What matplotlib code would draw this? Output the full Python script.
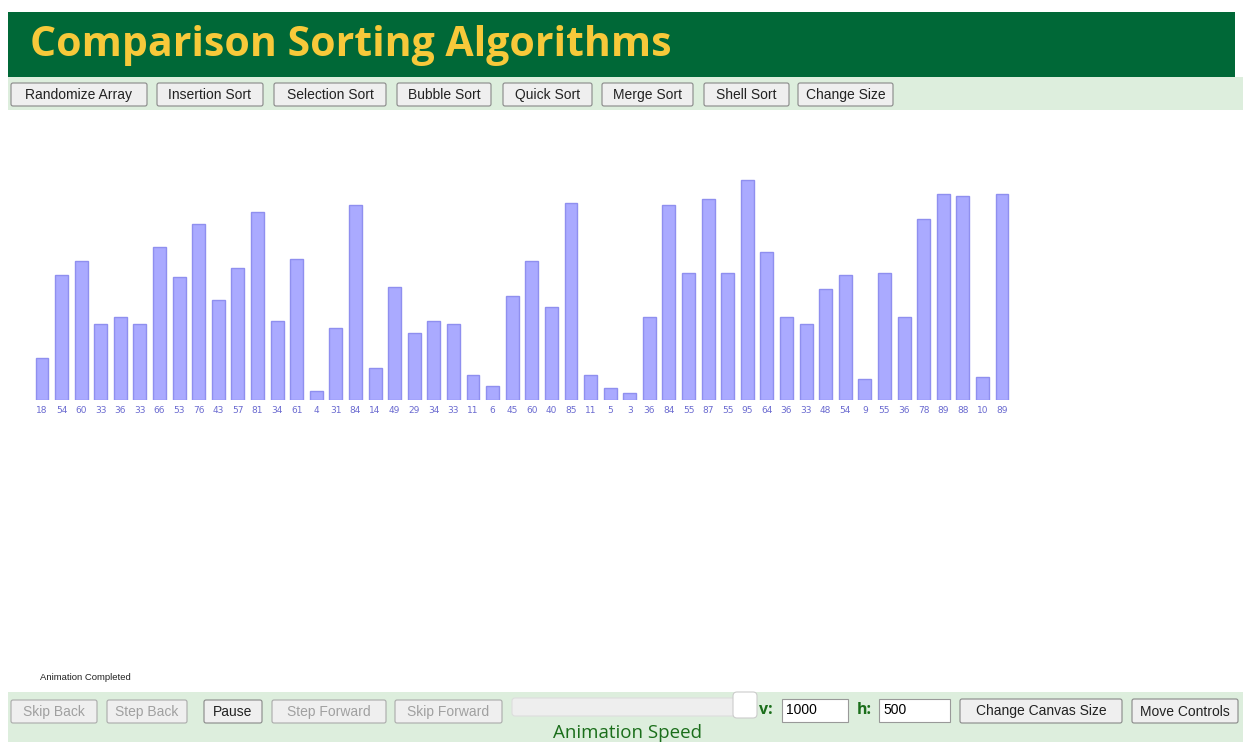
import matplotlib
matplotlib.use('Agg')
import matplotlib.pyplot as plt
from matplotlib.patches import Rectangle, FancyBboxPatch

values = [18, 54, 60, 33, 36, 33, 66, 53, 76, 43, 57, 81, 34, 61, 4, 31, 84, 14, 49, 29,
          34, 33, 11, 6, 45, 60, 40, 85, 11, 5, 3, 36, 84, 55, 87, 55, 95, 64, 36, 33,
          48, 54, 9, 55, 36, 78, 89, 88, 10, 89]
top_buttons = ['Randomize Array', 'Insertion Sort', 'Selection Sort', 'Bubble Sort',
               'Quick Sort', 'Merge Sort', 'Shell Sort', 'Change Size']
top_btn_x = [(11, 147), (157, 263), (274, 386), (397, 491), (503, 592), (602, 693),
             (704, 789), (798, 893)]
bottom_buttons = ['Skip Back', 'Step Back', 'Pause', 'Step Forward', 'Skip Forward']
bottom_btn_x = [(11, 97), (107, 187), (204, 262), (272, 386), (395, 502)]
bottom_enabled = [False, False, True, False, False]

W, H = 1243, 742
fig = plt.figure(figsize=(W / 100, H / 100), dpi=100)
fig.patch.set_facecolor('white')

# page decorations in pixel coordinates
bg = fig.add_axes([0, 0, 1, 1])
bg.set_xlim(0, W)
bg.set_ylim(H, 0)
bg.axis('off')

green = '#006837'
light = '#ddeedd'
bg.add_patch(Rectangle((8, 12), 1227, 65, color=green, lw=0))
bg.text(30, 45, 'Comparison Sorting Algorithms', color='#f7c93a', fontsize=29.5,
        fontweight='bold', family='Open Sans', va='center', ha='left')
bg.add_patch(Rectangle((8, 77), 1235, 33, color=light, lw=0))


def button(x0, x1, y0, y1, label, enabled=True):
    bg.add_patch(FancyBboxPatch((x0, y0), x1 - x0, y1 - y0,
                                boxstyle='round,pad=0,rounding_size=2',
                                fc='#efefef', ec='#aaaaaa' if not enabled else '#888888', lw=0.8))
    bg.text((x0 + x1) / 2, (y0 + y1) / 2 - 1, label, ha='center', va='center_baseline',
            fontsize=10, family='Liberation Sans',
            color='#222222' if enabled else '#a0a0a0')


for lab, (x0, x1) in zip(top_buttons, top_btn_x):
    button(x0, x1, 83, 106, lab)

bg.text(40, 678, 'Animation Completed', fontsize=6.8, family='Liberation Sans',
        va='center', color='#222222')
bg.add_patch(Rectangle((8, 692), 1235, 50, color=light, lw=0))
for lab, (x0, x1), en in zip(bottom_buttons, bottom_btn_x, bottom_enabled):
    button(x0, x1, 700, 723, lab, en)

# speed slider
bg.add_patch(FancyBboxPatch((512, 698), 240, 18, boxstyle='round,pad=0,rounding_size=3',
                            fc='#eeeeee', ec='#dddddd', lw=0.8))
bg.add_patch(FancyBboxPatch((733, 692), 24, 26, boxstyle='round,pad=0,rounding_size=4',
                            fc='white', ec='#cccccc', lw=0.8))
bg.text(628, 733, 'Animation Speed', fontsize=13.5, family='Open Sans', color='#1a6e1a',
        ha='center', va='center')
bg.text(759, 710, 'v:', fontsize=11.5, family='Open Sans', color='#1a6e1a',
        fontweight='bold', va='center')
bg.add_patch(Rectangle((782, 699), 66, 23, fc='white', ec='#999999', lw=0.8))
bg.text(786, 709, '1000', fontsize=10, family='Liberation Sans', va='center_baseline')
bg.text(857, 710, 'h:', fontsize=11.5, family='Open Sans', color='#1a6e1a',
        fontweight='bold', va='center')
bg.add_patch(Rectangle((879, 699), 71, 23, fc='white', ec='#999999', lw=0.8))
bg.text(883, 709, '500', fontsize=10, family='Liberation Sans', va='center_baseline')
button(960, 1122, 699, 723, 'Change Canvas Size')
button(1132, 1238, 699, 723, 'Move Controls')

# the bar chart
ax = fig.add_axes([32.2 / W, (H - 400) / H, 979.6 / W, 231.6 / H])
ax.set_xlim(-0.5, len(values) - 0.5)
ax.set_ylim(0, 100)
ax.bar(range(len(values)), values, width=0.66, color='#aaaaff', edgecolor='#8f8fef', lw=1)
ax.set_xticks(range(len(values)))
ax.set_xticklabels([str(v) for v in values], fontsize=6.5, color='#6a6ad0',
                   family='DejaVu Sans')
ax.tick_params(axis='x', length=0, pad=4)
ax.set_yticks([])
for s in ax.spines.values():
    s.set_visible(False)
ax.patch.set_alpha(0)

fig.savefig('out.png', dpi=100)
